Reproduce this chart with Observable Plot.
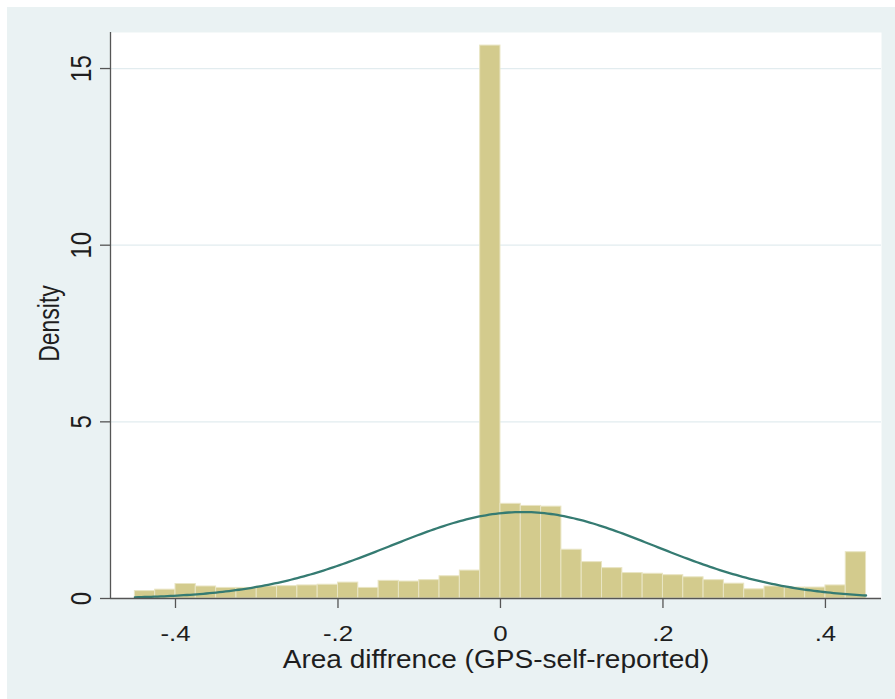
<!DOCTYPE html>
<html>
<head>
<meta charset="utf-8">
<script src="https://cdn.jsdelivr.net/npm/d3@7"></script>
<script src="https://cdn.jsdelivr.net/npm/@observablehq/plot@0.6"></script>
<style>
  html, body { margin: 0; padding: 0; background: #ffffff; }
  #chart { position: absolute; left: 7px; top: 7px; }
  #chart svg { display: block; }
</style>
</head>
<body>
<div id="chart"></div>
<script>
// Histogram bins: lower and upper edge of each bin (width 0.025) and its density
const binLeft = [
  -0.450, -0.425, -0.400, -0.375, -0.350, -0.325, -0.300, -0.275, -0.250,
  -0.225, -0.200, -0.175, -0.150, -0.125, -0.100, -0.075, -0.050, -0.025,
   0.000,  0.025,  0.050,  0.075,  0.100,  0.125,  0.150,  0.175,  0.200,
   0.225,  0.250,  0.275,  0.300,  0.325,  0.350,  0.375,  0.400,  0.425
];
const binRight = [
  -0.425, -0.400, -0.375, -0.350, -0.325, -0.300, -0.275, -0.250, -0.225,
  -0.200, -0.175, -0.150, -0.125, -0.100, -0.075, -0.050, -0.025,  0.000,
   0.025,  0.050,  0.075,  0.100,  0.125,  0.150,  0.175,  0.200,  0.225,
   0.250,  0.275,  0.300,  0.325,  0.350,  0.375,  0.400,  0.425,  0.450
];
const density = [
  0.21, 0.25, 0.41, 0.34, 0.30, 0.30, 0.34, 0.35, 0.37,
  0.39, 0.45, 0.30, 0.50, 0.48, 0.52, 0.63, 0.79, 15.65,
  2.68, 2.62, 2.60, 1.38, 1.03, 0.86, 0.72, 0.70, 0.66,
  0.60, 0.52, 0.42, 0.26, 0.34, 0.31, 0.31, 0.37, 1.31
];

// Fitted normal density overlaid on the histogram
const normalMean = 0.027;
const normalSd = 0.163;
const curveRange = [-0.45, 0.45];

// Axis ticks and labels
const xTicks = [-0.4, -0.2, 0, 0.2, 0.4];
const xTickLabels = ["-.4", "-.2", "0", ".2", ".4"];
const yTicks = [0, 5, 10, 15];
const yTickLabels = ["0", "5", "10", "15"];
const xTitle = "Area diffrence (GPS-self-reported)";
const yTitle = "Density";

const bins = binLeft.map((x1, i) => ({x1, x2: binRight[i], density: density[i]}));

const normalPdf = x =>
  Math.exp(-0.5 * ((x - normalMean) / normalSd) ** 2) / (normalSd * Math.sqrt(2 * Math.PI));
const curve = d3.range(curveRange[0], curveRange[1] + 1e-9, 0.004)
  .map(x => ({x, y: normalPdf(x)}));

const axisColor = "#555555";
const textColor = "#1e1e1e";
const font = "'Liberation Sans', Arial, Helvetica, sans-serif";
const xDomain = [-0.48, 0.469];

const chart = Plot.plot({
  width: 888,
  height: 692,
  marginLeft: 103,
  marginRight: 14,
  marginTop: 25,
  marginBottom: 101,
  style: {background: "#eaf2f3", fontFamily: font, color: textColor, overflow: "visible"},
  x: {domain: xDomain, label: null},
  y: {domain: [0, 16.02], label: null},
  marks: [
    // white plot region
    Plot.frame({fill: "white", stroke: null}),
    // horizontal grid lines
    Plot.gridY(yTicks.filter(d => d > 0), {stroke: "#e2ecef", strokeOpacity: 1, strokeWidth: 1.3}),
    // histogram bars
    Plot.rectY(bins, {
      x1: "x1", x2: "x2", y: "density",
      fill: "#d3cb8d", stroke: "#e9e5c4", strokeWidth: 1
    }),
    // normal density curve
    Plot.line(curve, {x: "x", y: "y", stroke: "#357b72", strokeWidth: 2.3, curve: "linear"}),
    // axis lines
    Plot.ruleY([0], {stroke: axisColor, strokeWidth: 1.3}),
    Plot.ruleX([xDomain[0]], {stroke: axisColor, strokeWidth: 1.3}),
    // x ticks and labels
    Plot.axisX({
      ticks: xTicks,
      tickFormat: d => xTickLabels[xTicks.indexOf(d)],
      tickSize: 10,
      tickPadding: 17,
      stroke: axisColor,
      strokeWidth: 1.3,
      fontSize: 21.5,
      fill: textColor,
      label: null
    }),
    // y ticks (labels drawn rotated below)
    Plot.axisY({
      ticks: yTicks,
      tickFormat: () => "",
      tickSize: 10,
      stroke: axisColor,
      strokeWidth: 1.3,
      label: null
    }),
    Plot.text(yTicks, {
      y: d => d,
      text: (d, i) => yTickLabels[i],
      frameAnchor: "left",
      dx: -20,
      rotate: -90,
      textAnchor: "middle",
      lineAnchor: "bottom",
      fontSize: 24,
      fill: textColor
    }),
    // axis titles
    Plot.text([xTitle], {
      text: d => d,
      frameAnchor: "bottom",
      dy: 69,
      textAnchor: "middle",
      lineAnchor: "bottom",
      fontSize: 25.5,
      fill: textColor
    }),
    Plot.text([yTitle], {
      text: d => d,
      frameAnchor: "left",
      dx: -52,
      dy: 8,
      rotate: -90,
      textAnchor: "middle",
      lineAnchor: "bottom",
      fontSize: 23,
      fill: textColor
    })
  ]
});

document.getElementById("chart").appendChild(chart);

// Slightly widen the lettering, as in Stata's exported graphs
const widen = (el, k) => {
  const len = el.getComputedTextLength();
  el.setAttribute("textLength", (len * k).toFixed(1));
  el.setAttribute("lengthAdjust", "spacingAndGlyphs");
};
chart.querySelectorAll("text").forEach(el => {
  const t = el.textContent;
  const tr = el.getAttribute("transform") || "";
  if (tr.includes("rotate")) {
    el.setAttribute("transform", tr + " scale(1,1.25)");
  } else if (t === xTitle) {
    widen(el, 1.1);
  } else if (xTickLabels.includes(t)) {
    widen(el, 1.2);
  }
});
</script>
</body>
</html>
